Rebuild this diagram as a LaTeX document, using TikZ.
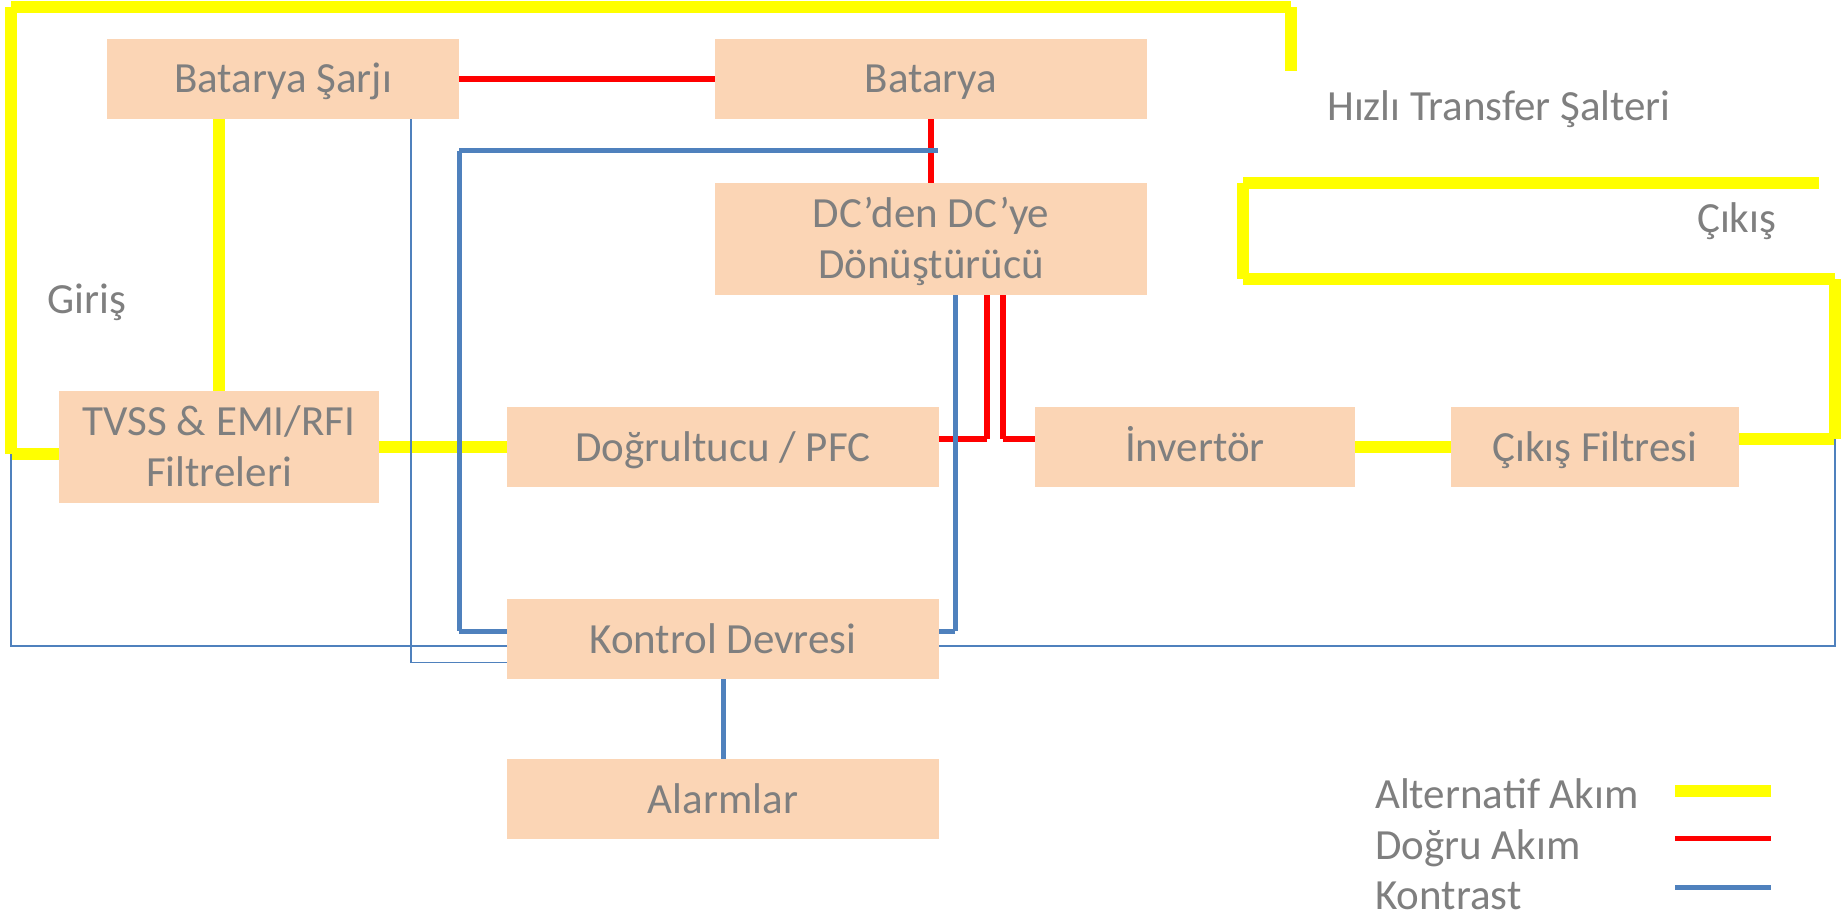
\documentclass[tikz,border=0pt]{standalone}
\usepackage{fontspec}
\setmainfont{Carlito}
\usetikzlibrary{calc}
\definecolor{boxfill}{HTML}{FBD5B5}
\definecolor{txtgray}{HTML}{7F7F7F}
\definecolor{acline}{HTML}{FFFF00}
\definecolor{dcline}{HTML}{FF0000}
\definecolor{ctlblue}{HTML}{4F81BD}
\tikzset{
  blk/.style={fill=boxfill, draw=none, inner sep=0pt, minimum height=80pt,
    text=txtgray, align=center, font=\fontsize{43}{51}\selectfont,
    text height=28pt, text depth=0pt},
  blktwo/.style={blk, minimum height=112pt, text height=79pt},
  lbl/.style={inner sep=0pt, anchor=base west, text=txtgray,
    font=\fontsize{43}{51}\selectfont},
  ac/.style={draw=acline, line width=12pt, line cap=butt},
  dcw/.style={draw=dcline, line width=5.5pt, line cap=butt},
  ctlthick/.style={draw=ctlblue, line width=5pt, line cap=butt},
  ctlthin/.style={draw=ctlblue, line width=1.5pt},
}
\begin{document}
\begin{tikzpicture}[x=1pt, y=-1pt]
\useasboundingbox (0,0) rectangle (1841,917);
\fill[white] (0,0) rectangle (1841,917);

% blocks
\node[blk, minimum width=352pt] (bs) at (283,79) {Batarya Şarjı};
\node[blk, minimum width=432pt] (bat) at (931,79) {Batarya};
\node[blktwo, minimum width=432pt] (dc) at (931,239) {DC’den DC’ye\\Dönüştürücü};
\node[blktwo, minimum width=320pt] (tvss) at (219,447) {TVSS \& EMI/RFI\\Filtreleri};
\node[blk, minimum width=432pt] (rect) at (723,447) {Doğrultucu / PFC};
\node[blk, minimum width=320pt] (inv) at (1195,447) {İnvertör};
\node[blk, minimum width=288pt] (cf) at (1595,447) {Çıkış Filtresi};
\node[blk, minimum width=432pt] (ctl) at (723,639) {Kontrol Devresi};
\node[blk, minimum width=432pt] (alm) at (723,799) {Alarmlar};

% free labels
\node[lbl] (giris) at (47,313) {Giriş};
\node[lbl] (sts) at (1327,121) {Hızlı Transfer Şalteri};
\node[lbl] (cikis) at (1697,233) {Çıkış};

% legend
\node[lbl] (lgac) at (1375,808) {Alternatif Akım};
\node[lbl] (lgdc) at (1375,859.5) {Doğru Akım};
\node[lbl] (lgct) at (1375,909) {Kontrast};
\coordinate (kac1) at (1675,791);   \coordinate (kac2) at (1771,791);
\coordinate (kdc1) at (1675,838.5); \coordinate (kdc2) at (1771,838.5);
\coordinate (kct1) at (1675,887);   \coordinate (kct2) at (1771,887);

% route corners
\coordinate (inC) at (11,454);
\coordinate (topL) at (11,7);
\coordinate (topR) at (1291,7);
\coordinate (stsEnd) at (1291,71);
\coordinate (oR1) at (1835,439);
\coordinate (oR2) at (1835,279);
\coordinate (oL1) at (1243,279);
\coordinate (oL2) at (1243,183);
\coordinate (oEnd) at (1819,183);
\coordinate (r1) at (987,439);
\coordinate (r2) at (1003,439);
\coordinate (kTR) at (938,151);
\coordinate (kTL) at (459,151);
\coordinate (kBL) at (459,631);
\coordinate (kBR) at (955,631);
\coordinate (tL) at (11,646);
\coordinate (sB) at (411,662.5);
\coordinate (tR) at (1835,646);

% AC lines
\draw[ac] ([yshift=-7pt]tvss.west) -- (inC);
\draw[ac] (inC) -- (topL);
\draw[ac] (topL) -- (topR);
\draw[ac] (topR) -- (stsEnd);
\draw[ac] ([xshift=-64pt]bs.south) -- (tvss.north);
\draw[ac] (tvss.east) -- (rect.west);
\draw[ac] (inv.east) -- (cf.west);
\draw[ac] ([yshift=8pt]cf.east) -- (oR1);
\draw[ac] (oR1) -- (oR2);
\draw[ac] (oR2) -- (oL1);
\draw[ac] (oL1) -- (oL2);
\draw[ac] (oL2) -- (oEnd);
\draw[ac] (kac1) -- (kac2);

% DC lines
\draw[dcw] (bs.east) -- (bat.west);
\draw[dcw] (bat.south) -- (dc.north);
\draw[dcw] ([xshift=56pt]dc.south) -- (r1);
\draw[dcw] (r1) -- ([yshift=8pt]rect.east);
\draw[dcw] ([xshift=72pt]dc.south) -- (r2);
\draw[dcw] (r2) -- ([yshift=8pt]inv.west);
\draw[dcw] (kdc1) -- (kdc2);

% control lines
\draw[ctlthin] (inC) -- (tL) -- ([yshift=-7pt]ctl.west);
\draw[ctlthin] ([xshift=128pt]bs.south) -- (sB) -- ([yshift=-23.5pt]ctl.west);
\draw[ctlthin] ([yshift=-7pt]ctl.east) -- (tR) -- (oR1);
\draw[ctlthick] (kTR) -- (kTL);
\draw[ctlthick] (kTL) -- (kBL);
\draw[ctlthick] (kBL) -- ([yshift=8pt]ctl.west);
\draw[ctlthick] ([xshift=24pt]dc.south) -- (kBR);
\draw[ctlthick] (kBR) -- ([yshift=8pt]ctl.east);
\draw[ctlthick] (ctl.south) -- (alm.north);
\draw[ctlthick] (kct1) -- (kct2);
\end{tikzpicture}
\end{document}
